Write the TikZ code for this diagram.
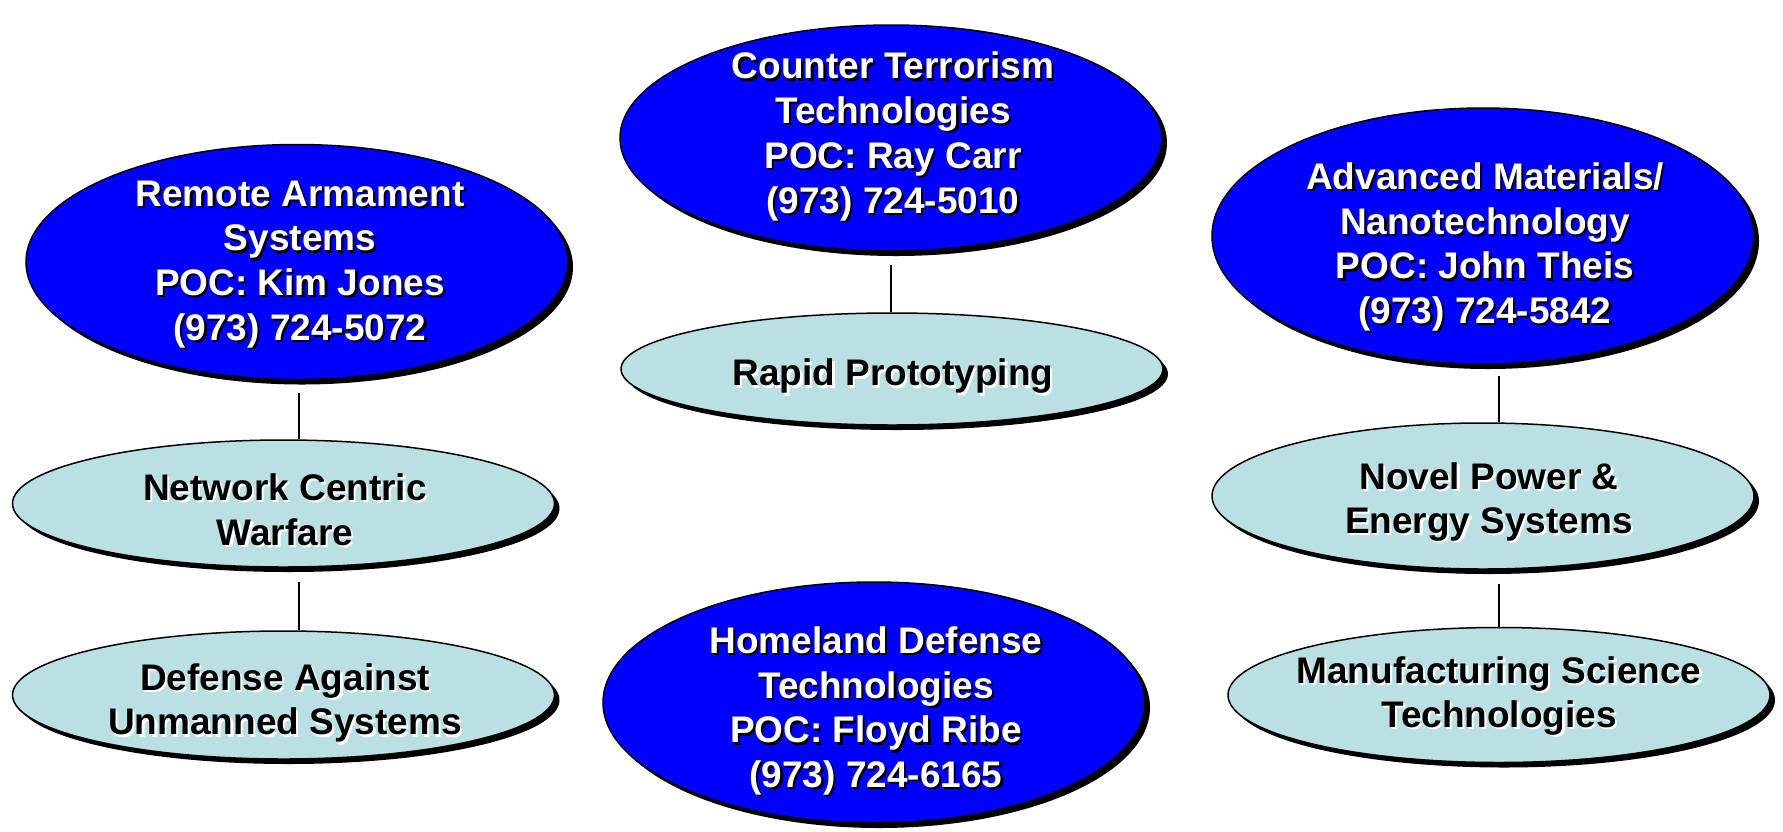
\documentclass[tikz,border=0pt]{standalone}
\usepackage{fontspec}
\setmainfont{Liberation Sans}
\usetikzlibrary{shapes.geometric,shadows,calc}
\definecolor{lightfill}{RGB}{187,224,227}
\definecolor{bluefill}{RGB}{0,0,255}
\newcommand\tsh[2]{\leavevmode\rlap{\kern2.2pt\raisebox{-2.2pt}{\textcolor{#1}{#2}}}#2}
\newcommand\wl[1]{\tsh{black}{#1}}
\newcommand\bl[1]{\tsh{white}{#1}}
\begin{document}
\begin{tikzpicture}[x=1pt,y=-1pt,
  oval/.style={ellipse, draw=black, line width=1.5pt, inner sep=0pt, minimum width=542pt,
    drop shadow={shadow xshift=5pt, shadow yshift=-5pt, fill=black, opacity=1}},
  blueoval/.style={oval, fill=bluefill},
  lightoval/.style={oval, fill=lightfill},
  wtext/.style={text=white, font=\bfseries\fontsize{37}{44.7}\selectfont, align=center, inner sep=0pt},
  btext/.style={text=black, font=\bfseries\fontsize{37}{44.7}\selectfont, align=center, inner sep=0pt},
  link/.style={line width=1.5pt, draw=black}
]
\useasboundingbox (0,0) rectangle (1783,831);

% ellipses
\node[blueoval, minimum height=235pt] (RA) at (297,262) {};
\node[blueoval, minimum height=226pt] (CT) at (891,138) {};
\node[blueoval, minimum height=256pt] (AM) at (1483,236) {};
\node[lightoval, minimum height=112pt] (RP) at (892,369) {};
\node[lightoval, minimum height=127pt] (NCW) at (283.5,503.5) {};
\node[lightoval, minimum height=128pt] (DAUS) at (283.5,695) {};
\node[blueoval, minimum height=241pt] (HD) at (874,702.5) {};
\node[lightoval, minimum height=146pt] (NPES) at (1483,496) {};
\node[lightoval, minimum height=135pt] (MST) at (1499,695) {};

% texts
\node[wtext] (RA-t) at (300,265.5) {\wl{Remote Armament}\\\wl{Systems}\\\wl{POC: Kim Jones}\\\wl{(973) 724-5072}};
\node[wtext] (CT-t) at (893,137.5) {\wl{Counter Terrorism}\\\wl{Technologies}\\\wl{POC: Ray Carr}\\\wl{(973) 724-5010}};
\node[wtext] (AM-t) at (1485,248) {\wl{Advanced Materials/}\\\wl{Nanotechnology}\\\wl{POC: John Theis}\\\wl{(973) 724-5842}};
\node[wtext] (HD-t) at (876,712) {\wl{Homeland Defense}\\\wl{Technologies}\\\wl{POC: Floyd Ribe}\\\wl{(973) 724-6165}};
\node[btext] (RP-t) at (893,377.5) {\bl{Rapid Prototyping}};
\node[btext] (NCW-t) at (285,511) {\bl{Network Centric}\\\bl{Warfare}};
\node[btext] (DAUS-t) at (285,704) {\bl{Defense Against}\\\bl{Unmanned Systems}};
\node[btext] (NPES-t) at (1489,503) {\bl{Novel Power \&}\\\bl{Energy Systems}};
\node[btext] (MST-t) at (1499,697) {\bl{Manufacturing Science}\\\bl{Technologies}};

% connectors
\draw[link] ($(RA.south)+(2,13)$) -- ($(RA.south |- NCW.north)+(2,0)$);
\draw[link] ($(RA.south |- NCW.south)+(2,14)$) -- ($(RA.south |- DAUS.north)+(2,0)$);
\draw[link] ($(CT.south)+(0,13)$) -- (CT.south |- RP.north);
\draw[link] ($(MST.north |- AM.south)+(0,11)$) -- (MST.north |- NPES.north);
\draw[link] ($(MST.north |- NPES.south)+(0,14)$) -- (MST.north);
\end{tikzpicture}
\end{document}
